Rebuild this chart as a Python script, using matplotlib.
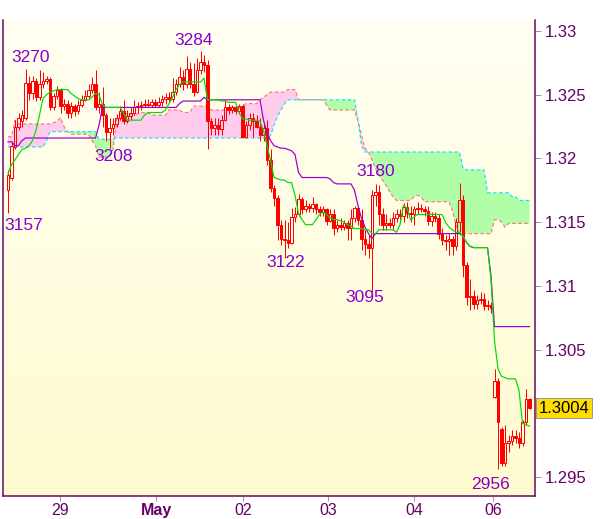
import matplotlib
matplotlib.use("Agg")
import matplotlib.pyplot as plt
import numpy as np
from matplotlib.patches import Rectangle
from matplotlib.collections import LineCollection

# ---------------- data (hourly candles) ----------------
opens = [1.3175, 1.3185, 1.3209, 1.3225, 1.3229, 1.3232, 1.3259, 1.3251, 1.3261, 1.3248,
         1.3258, 1.3261, 1.3262, 1.3240, 1.3249, 1.3254, 1.3241, 1.3243, 1.3236, 1.3241,
         1.3237, 1.3242, 1.3246, 1.3249, 1.3254, 1.3258, 1.3240, 1.3243, 1.3234, 1.3221,
         1.3224, 1.3227, 1.3232, 1.3237, 1.3229, 1.3233, 1.3236, 1.3240, 1.3241, 1.3242,
         1.3243, 1.3242, 1.3244, 1.3242, 1.3244, 1.3247, 1.3248, 1.3247, 1.3252, 1.3258,
         1.3264, 1.3258, 1.3270, 1.3258, 1.3252, 1.3269, 1.3276, 1.3273, 1.3229, 1.3224,
         1.3226, 1.3223, 1.3230, 1.3240, 1.3238, 1.3240, 1.3237, 1.3241, 1.3217, 1.3226,
         1.3232, 1.3229, 1.3225, 1.3218, 1.3224, 1.3199, 1.3177, 1.3169, 1.3148, 1.3137,
         1.3136, 1.3134, 1.3154, 1.3156, 1.3168, 1.3160, 1.3163, 1.3161, 1.3164, 1.3160,
         1.3158, 1.3160, 1.3151, 1.3156, 1.3145, 1.3148, 1.3146, 1.3149, 1.3145, 1.3153,
         1.3161, 1.3152, 1.3137, 1.3133, 1.3130, 1.3171, 1.3174, 1.3156, 1.3148, 1.3149,
         1.3148, 1.3153, 1.3156, 1.3155, 1.3162, 1.3157, 1.3156, 1.3160, 1.3161, 1.3160,
         1.3159, 1.3151, 1.3155, 1.3153, 1.3141, 1.3136, 1.3135, 1.3137, 1.3131, 1.3150,
         1.3167, 1.3116, 1.3091, 1.3092, 1.3086, 1.3089, 1.3090, 1.3084, 1.3085, 1.3013,
         1.3025, 1.2988, 1.2961, 1.2977, 1.2978, 1.2982, 1.2981, 1.2977, 1.2993, 1.3011]
highs = [1.3191, 1.3214, 1.3230, 1.3236, 1.3238, 1.3270, 1.3265, 1.3265, 1.3263, 1.3269,
         1.3268, 1.3265, 1.3264, 1.3251, 1.3257, 1.3255, 1.3247, 1.3246, 1.3244, 1.3243,
         1.3246, 1.3250, 1.3254, 1.3258, 1.3264, 1.3269, 1.3252, 1.3256, 1.3236, 1.3232,
         1.3232, 1.3235, 1.3241, 1.3246, 1.3238, 1.3240, 1.3246, 1.3244, 1.3245, 1.3247,
         1.3247, 1.3247, 1.3247, 1.3248, 1.3250, 1.3251, 1.3252, 1.3263, 1.3262, 1.3272,
         1.3269, 1.3280, 1.3276, 1.3275, 1.3279, 1.3284, 1.3281, 1.3277, 1.3232, 1.3232,
         1.3232, 1.3234, 1.3246, 1.3243, 1.3242, 1.3243, 1.3243, 1.3243, 1.3229, 1.3236,
         1.3236, 1.3234, 1.3232, 1.3227, 1.3230, 1.3207, 1.3179, 1.3171, 1.3152, 1.3152,
         1.3150, 1.3161, 1.3162, 1.3172, 1.3170, 1.3167, 1.3165, 1.3170, 1.3165, 1.3163,
         1.3163, 1.3161, 1.3160, 1.3160, 1.3152, 1.3153, 1.3152, 1.3152, 1.3160, 1.3163,
         1.3163, 1.3160, 1.3144, 1.3140, 1.3175, 1.3180, 1.3179, 1.3161, 1.3156, 1.3153,
         1.3158, 1.3160, 1.3160, 1.3165, 1.3166, 1.3163, 1.3163, 1.3166, 1.3164, 1.3163,
         1.3163, 1.3158, 1.3158, 1.3156, 1.3145, 1.3140, 1.3141, 1.3139, 1.3153, 1.3181,
         1.3171, 1.3119, 1.3105, 1.3097, 1.3093, 1.3095, 1.3094, 1.3089, 1.3087, 1.3035,
         1.3028, 1.2989, 1.2991, 1.2983, 1.2987, 1.2987, 1.2985, 1.2995, 1.3019, 1.3012]
lows = [1.3157, 1.3183, 1.3207, 1.3222, 1.3225, 1.3230, 1.3246, 1.3247, 1.3245, 1.3246,
        1.3255, 1.3258, 1.3238, 1.3238, 1.3247, 1.3236, 1.3238, 1.3232, 1.3232, 1.3233,
        1.3235, 1.3240, 1.3245, 1.3247, 1.3251, 1.3238, 1.3236, 1.3225, 1.3214, 1.3208,
        1.3218, 1.3225, 1.3230, 1.3227, 1.3228, 1.3230, 1.3234, 1.3236, 1.3238, 1.3240,
        1.3240, 1.3240, 1.3240, 1.3240, 1.3241, 1.3243, 1.3244, 1.3244, 1.3250, 1.3256,
        1.3254, 1.3255, 1.3255, 1.3249, 1.3251, 1.3266, 1.3268, 1.3207, 1.3218, 1.3218,
        1.3218, 1.3218, 1.3229, 1.3235, 1.3236, 1.3235, 1.3235, 1.3216, 1.3216, 1.3222,
        1.3217, 1.3224, 1.3214, 1.3214, 1.3195, 1.3174, 1.3163, 1.3136, 1.3132, 1.3122,
        1.3130, 1.3133, 1.3150, 1.3155, 1.3156, 1.3158, 1.3158, 1.3158, 1.3156, 1.3155,
        1.3155, 1.3148, 1.3150, 1.3140, 1.3142, 1.3144, 1.3144, 1.3136, 1.3136, 1.3150,
        1.3148, 1.3128, 1.3124, 1.3122, 1.3095, 1.3163, 1.3148, 1.3144, 1.3144, 1.3145,
        1.3144, 1.3150, 1.3152, 1.3150, 1.3153, 1.3150, 1.3148, 1.3156, 1.3158, 1.3155,
        1.3148, 1.3147, 1.3150, 1.3137, 1.3132, 1.3128, 1.3124, 1.3124, 1.3128, 1.3142,
        1.3107, 1.3085, 1.3081, 1.3082, 1.3082, 1.3086, 1.3081, 1.3081, 1.3079, 1.3012,
        1.2956, 1.2959, 1.2959, 1.2970, 1.2975, 1.2977, 1.2973, 1.2974, 1.2991, 1.3003]
closes = [1.3187, 1.3210, 1.3225, 1.3232, 1.3234, 1.3259, 1.3251, 1.3261, 1.3248, 1.3258,
          1.3261, 1.3262, 1.3240, 1.3249, 1.3254, 1.3241, 1.3243, 1.3236, 1.3241, 1.3237,
          1.3242, 1.3246, 1.3249, 1.3254, 1.3258, 1.3240, 1.3243, 1.3234, 1.3221, 1.3224,
          1.3227, 1.3232, 1.3237, 1.3229, 1.3233, 1.3236, 1.3240, 1.3241, 1.3242, 1.3243,
          1.3242, 1.3244, 1.3242, 1.3244, 1.3247, 1.3248, 1.3247, 1.3252, 1.3258, 1.3264,
          1.3258, 1.3270, 1.3258, 1.3252, 1.3269, 1.3276, 1.3273, 1.3229, 1.3224, 1.3226,
          1.3223, 1.3230, 1.3240, 1.3238, 1.3240, 1.3237, 1.3241, 1.3217, 1.3226, 1.3232,
          1.3229, 1.3225, 1.3218, 1.3224, 1.3199, 1.3177, 1.3169, 1.3148, 1.3137, 1.3136,
          1.3134, 1.3154, 1.3156, 1.3168, 1.3160, 1.3163, 1.3161, 1.3164, 1.3160, 1.3158,
          1.3160, 1.3151, 1.3156, 1.3145, 1.3148, 1.3146, 1.3149, 1.3145, 1.3153, 1.3161,
          1.3152, 1.3137, 1.3133, 1.3130, 1.3171, 1.3174, 1.3156, 1.3148, 1.3149, 1.3148,
          1.3153, 1.3156, 1.3155, 1.3162, 1.3157, 1.3156, 1.3160, 1.3161, 1.3160, 1.3159,
          1.3151, 1.3155, 1.3153, 1.3141, 1.3136, 1.3135, 1.3137, 1.3131, 1.3150, 1.3167,
          1.3116, 1.3091, 1.3092, 1.3086, 1.3089, 1.3090, 1.3084, 1.3085, 1.3083, 1.3025,
          1.2993, 1.2961, 1.2977, 1.2978, 1.2982, 1.2981, 1.2977, 1.2993, 1.3011, 1.3004]

# conversion line (green)
tenkan = [1.3188, 1.3195, 1.3199, 1.3203, 1.3207, 1.3208, 1.3210, 1.3214, 1.3222, 1.3234,
          1.3247, 1.3250, 1.3252, 1.3253, 1.3254, 1.3254, 1.3254, 1.3254, 1.3251, 1.3249,
          1.3247, 1.3246, 1.3246, 1.3246, 1.3248, 1.3251, 1.3250, 1.3242, 1.3240, 1.3240,
          1.3240, 1.3240, 1.3240, 1.3236, 1.3230, 1.3230, 1.3230, 1.3230, 1.3230, 1.3234,
          1.3236, 1.3236, 1.3236, 1.3236, 1.3236, 1.3238, 1.3243, 1.3248, 1.3254, 1.3258,
          1.3260, 1.3260, 1.3260, 1.3260, 1.3260, 1.3260, 1.3263, 1.3246, 1.3246, 1.3246,
          1.3246, 1.3245, 1.3245, 1.3244, 1.3244, 1.3244, 1.3236, 1.3231, 1.3231, 1.3230,
          1.3230, 1.3230, 1.3229, 1.3222, 1.3210, 1.3199, 1.3185, 1.3184, 1.3183, 1.3183,
          1.3181, 1.3181, 1.3171, 1.3157, 1.3152, 1.3148, 1.3148, 1.3148, 1.3152, 1.3156,
          1.3158, 1.3156, 1.3153, 1.3152, 1.3152, 1.3151, 1.3150, 1.3148, 1.3147, 1.3145,
          1.3145, 1.3145, 1.3144, 1.3144, 1.3141, 1.3141, 1.3144, 1.3144, 1.3144, 1.3144,
          1.3144, 1.3142, 1.3148, 1.3163, 1.3161, 1.3152, 1.3154, 1.3156, 1.3156, 1.3156,
          1.3156, 1.3156, 1.3156, 1.3156, 1.3156, 1.3150, 1.3146, 1.3144, 1.3142, 1.3142,
          1.3139, 1.3134, 1.3131, 1.3130, 1.3130, 1.3130, 1.3130, 1.3130, 1.3105, 1.3057,
          1.3035, 1.3029, 1.3028, 1.3027, 1.3027, 1.3027, 1.3018, 1.2992, 1.2991, 1.2990]

# base line (purple)
kijun = [1.3213, 1.3213, 1.3210, 1.3210, 1.3214, 1.3216, 1.3216, 1.3216, 1.3216, 1.3216,
         1.3216, 1.3216, 1.3216, 1.3216, 1.3216, 1.3216, 1.3216, 1.3216, 1.3216, 1.3216,
         1.3216, 1.3216, 1.3216, 1.3216, 1.3216, 1.3216, 1.3226, 1.3240, 1.3240, 1.3240,
         1.3240, 1.3240, 1.3240, 1.3240, 1.3240, 1.3240, 1.3240, 1.3240, 1.3240, 1.3240,
         1.3240, 1.3240, 1.3240, 1.3240, 1.3240, 1.3240, 1.3240, 1.3240, 1.3240, 1.3243,
         1.3245, 1.3245, 1.3245, 1.3245, 1.3245, 1.3245, 1.3248, 1.3246, 1.3246, 1.3246,
         1.3246, 1.3246, 1.3246, 1.3246, 1.3246, 1.3246, 1.3246, 1.3246, 1.3246, 1.3246,
         1.3246, 1.3246, 1.3246, 1.3230, 1.3220, 1.3214, 1.3210, 1.3209, 1.3208, 1.3208,
         1.3207, 1.3206, 1.3203, 1.3189, 1.3185, 1.3185, 1.3185, 1.3185, 1.3185, 1.3185,
         1.3185, 1.3185, 1.3184, 1.3181, 1.3180, 1.3180, 1.3180, 1.3180, 1.3180, 1.3175,
         1.3163, 1.3153, 1.3146, 1.3141, 1.3137, 1.3141, 1.3141, 1.3141, 1.3141, 1.3141,
         1.3141, 1.3141, 1.3141, 1.3141, 1.3141, 1.3141, 1.3141, 1.3141, 1.3141, 1.3141,
         1.3141, 1.3141, 1.3141, 1.3141, 1.3141, 1.3141, 1.3141, 1.3141, 1.3141, 1.3141,
         1.3139, 1.3134, 1.3131, 1.3130, 1.3130, 1.3130, 1.3130, 1.3130, 1.3108, 1.3068,
         1.3068, 1.3068, 1.3068, 1.3068, 1.3068, 1.3068, 1.3068, 1.3068, 1.3068, 1.3068]

# leading span A (cyan dashed)
span_a = [1.3209, 1.3209, 1.3209, 1.3209, 1.3209, 1.3209, 1.3209, 1.3209, 1.3209, 1.3209,
          1.3209, 1.3214, 1.3221, 1.3221, 1.3221, 1.3221, 1.3221, 1.3221, 1.3221, 1.3221,
          1.3221, 1.3221, 1.3221, 1.3221, 1.3221, 1.3221, 1.3215, 1.3215, 1.3215, 1.3215,
          1.3215, 1.3216, 1.3216, 1.3216, 1.3216, 1.3216, 1.3216, 1.3216, 1.3216, 1.3216,
          1.3216, 1.3216, 1.3216, 1.3216, 1.3216, 1.3216, 1.3216, 1.3216, 1.3216, 1.3216,
          1.3216, 1.3216, 1.3216, 1.3216, 1.3216, 1.3216, 1.3216, 1.3216, 1.3216, 1.3216,
          1.3216, 1.3216, 1.3216, 1.3216, 1.3216, 1.3216, 1.3216, 1.3216, 1.3216, 1.3216,
          1.3216, 1.3216, 1.3216, 1.3216, 1.3216, 1.3218, 1.3226, 1.3233, 1.3238, 1.3243,
          1.3246, 1.3246, 1.3246, 1.3246, 1.3246, 1.3246, 1.3246, 1.3246, 1.3246, 1.3246,
          1.3246, 1.3246, 1.3246, 1.3246, 1.3246, 1.3246, 1.3246, 1.3246, 1.3246, 1.3246,
          1.3230, 1.3210, 1.3205, 1.3205, 1.3205, 1.3205, 1.3205, 1.3205, 1.3205, 1.3205,
          1.3205, 1.3205, 1.3205, 1.3205, 1.3205, 1.3205, 1.3205, 1.3205, 1.3205, 1.3205,
          1.3205, 1.3205, 1.3205, 1.3205, 1.3205, 1.3205, 1.3205, 1.3205, 1.3205, 1.3205,
          1.3192, 1.3191, 1.3191, 1.3191, 1.3191, 1.3191, 1.3191, 1.3173, 1.3173, 1.3173,
          1.3173, 1.3173, 1.3173, 1.3173, 1.3170, 1.3170, 1.3167, 1.3167, 1.3167, 1.3167]

# leading span B (salmon dashed)
span_b = [1.3217, 1.3217, 1.3230, 1.3227, 1.3227, 1.3227, 1.3227, 1.3227, 1.3227, 1.3227,
          1.3227, 1.3227, 1.3227, 1.3228, 1.3229, 1.3232, 1.3225, 1.3221, 1.3219, 1.3219,
          1.3219, 1.3219, 1.3219, 1.3219, 1.3214, 1.3210, 1.3201, 1.3201, 1.3201, 1.3201,
          1.3207, 1.3230, 1.3235, 1.3235, 1.3235, 1.3235, 1.3235, 1.3235, 1.3236, 1.3236,
          1.3236, 1.3234, 1.3234, 1.3234, 1.3234, 1.3234, 1.3238, 1.3238, 1.3238, 1.3238,
          1.3236, 1.3236, 1.3236, 1.3241, 1.3241, 1.3241, 1.3241, 1.3241, 1.3238, 1.3238,
          1.3238, 1.3238, 1.3238, 1.3240, 1.3240, 1.3240, 1.3240, 1.3240, 1.3243, 1.3243,
          1.3243, 1.3243, 1.3246, 1.3248, 1.3250, 1.3252, 1.3252, 1.3252, 1.3252, 1.3252,
          1.3254, 1.3254, 1.3254, 1.3246, 1.3246, 1.3246, 1.3246, 1.3246, 1.3246, 1.3246,
          1.3246, 1.3242, 1.3238, 1.3238, 1.3238, 1.3238, 1.3238, 1.3238, 1.3238, 1.3238,
          1.3229, 1.3218, 1.3208, 1.3205, 1.3199, 1.3192, 1.3187, 1.3183, 1.3179, 1.3174,
          1.3170, 1.3167, 1.3167, 1.3167, 1.3167, 1.3167, 1.3170, 1.3171, 1.3170, 1.3166,
          1.3166, 1.3166, 1.3166, 1.3166, 1.3166, 1.3166, 1.3166, 1.3159, 1.3148, 1.3141,
          1.3141, 1.3141, 1.3141, 1.3141, 1.3141, 1.3141, 1.3141, 1.3141, 1.3141, 1.3152,
          1.3152, 1.3150, 1.3146, 1.3149, 1.3149, 1.3149, 1.3149, 1.3149, 1.3149, 1.3149]

# axis labels
x_tick_pos = [14.9, 42.3, 67.1, 91.4, 116.0, 138.6]
x_tick_labels = ["29", "May", "02", "03", "04", "06"]
y_ticks = [1.295, 1.300, 1.305, 1.310, 1.315, 1.320, 1.325, 1.330]
y_tick_labels = ["1.295", "", "1.305", "1.31", "1.315", "1.32", "1.325", "1.33"]

# swing high / low labels
swing_idx = [5, 0, 55, 29, 79, 104, 105, 140]
swing_kind = ["high", "low", "high", "low", "low", "low", "high", "low"]
swing_text = ["3270", "3157", "3284", "3208", "3122", "3095", "3180", "2956"]
last_price_text = "1.3004"

# ---------------- style ----------------
FONT = ["Liberation Sans Narrow", "Liberation Sans", "DejaVu Sans"]
plt.rcParams["font.family"] = FONT
PX = 0.72  # points per pixel at dpi 100

C_FRAME = "#660066"
C_TICKLBL = "#660066"
C_CANDLE = "#ff0000"
C_TENKAN = "#00dd00"
C_KIJUN = "#9900cc"
C_SPANA = "#22ddff"
C_SPANB = "#ff7777"
C_PINK = "#ffccee"
C_GREEN = "#b0ffa8"
C_LABEL = "#8800cc"

n = len(opens)
x = np.arange(n)
o = np.array(opens); h = np.array(highs); l = np.array(lows); c = np.array(closes)
sa = np.array(span_a); sb = np.array(span_b)

fig = plt.figure(figsize=(6.0, 5.19), dpi=100)
fig.patch.set_facecolor("white")
ax = fig.add_axes([3 / 600, (519 - 496) / 519, (535 - 3) / 600, (496 - 20) / 519])

x_lo, x_hi = -1.43, 150.57
y_lo, y_hi = 1.29351, 1.33086
ax.set_xlim(x_lo, x_hi)
ax.set_ylim(y_lo, y_hi)

# background gradient
grad = np.linspace(0, 1, 256).reshape(-1, 1)
top = np.array([255, 255, 242]) / 255.0
bot = np.array([255, 251, 208]) / 255.0
img = top[None, None, :] * (1 - grad[:, :, None]) + bot[None, None, :] * grad[:, :, None]
ax.imshow(img, extent=[x_lo, x_hi, y_lo, y_hi], origin="upper", aspect="auto", zorder=0)

# cloud
ax.fill_between(x, sa, sb, where=sb >= sa, interpolate=True, color=C_PINK, lw=0, zorder=1)
ax.fill_between(x, sa, sb, where=sa >= sb, interpolate=True, color=C_GREEN, lw=0, zorder=1)
ax.plot(x, sb, color=C_SPANB, lw=1.2 * PX, ls=(0, (3, 2)), zorder=2)
ax.plot(x, sa, color=C_SPANA, lw=1.2 * PX, ls=(0, (3, 2)), zorder=2)

# candles
w = 0.72
segs = []
for i in range(n):
    top_b = max(o[i], c[i]); bot_b = min(o[i], c[i])
    segs.append([(x[i], h[i]), (x[i], top_b)])
    segs.append([(x[i], bot_b), (x[i], l[i])])
ax.add_collection(LineCollection(segs, colors=C_CANDLE, linewidths=1.0 * PX, zorder=3))
for i in range(n):
    bot_b = min(o[i], c[i]); hgt = max(abs(c[i] - o[i]), 0.00004)
    up = c[i] > o[i]
    rect = Rectangle((x[i] - w / 2, bot_b), w, hgt,
                     facecolor=("none" if up else C_CANDLE), edgecolor=C_CANDLE,
                     linewidth=1.0 * PX, zorder=4)
    ax.add_patch(rect)

# lines
ax.plot(x, kijun, color=C_KIJUN, lw=1.2 * PX, zorder=5)
ax.plot(x, tenkan, color=C_TENKAN, lw=1.2 * PX, zorder=6)

# swing labels
dxs = [5.5, 16, -6.5, 4.5, 1.5, -7, 0.5, -8]
dys = [12, -12, 11, -8, -5, -5, 12, -15]
for k, idx in enumerate(swing_idx):
    yv = highs[idx] if swing_kind[k] == "high" else lows[idx]
    ax.annotate(swing_text[k], xy=(idx, yv), xytext=(dxs[k] * PX, dys[k] * PX),
                textcoords="offset points", ha="center", va="center",
                fontsize=12.5, color=C_LABEL, zorder=8, annotation_clip=False)

# axes styling
for s in ["left", "bottom", "right"]:
    ax.spines[s].set_color(C_FRAME)
    ax.spines[s].set_linewidth(1.5 * PX)
ax.spines["top"].set_visible(False)

ax.yaxis.tick_right()
ax.set_yticks(y_ticks)
ax.set_yticklabels(y_tick_labels)
ax.set_xticks(x_tick_pos)
ax.set_xticklabels(x_tick_labels)
ax.tick_params(axis="y", colors="#999999", length=6 * PX, width=1.0 * PX, pad=3,
               labelcolor=C_TICKLBL, labelsize=12)
ax.tick_params(axis="x", colors="#999999", length=5 * PX, width=1.0 * PX, pad=1.5,
               labelcolor=C_TICKLBL, labelsize=11.5)
for t in ax.get_xticklabels():
    if t.get_text() == "May":
        t.set_fontweight("bold")

# last price box
ax.annotate(last_price_text, xy=(1.0, closes[-1]), xycoords=("axes fraction", "data"),
            xytext=(29 * PX, 0), textcoords="offset points", ha="center", va="center",
            fontsize=12, color="black", zorder=9, annotation_clip=False,
            bbox=dict(boxstyle="square,pad=0.15", fc="#ffdd00", ec="#999999", lw=1.0 * PX))

fig.savefig("out.png", dpi=100, facecolor="white")
